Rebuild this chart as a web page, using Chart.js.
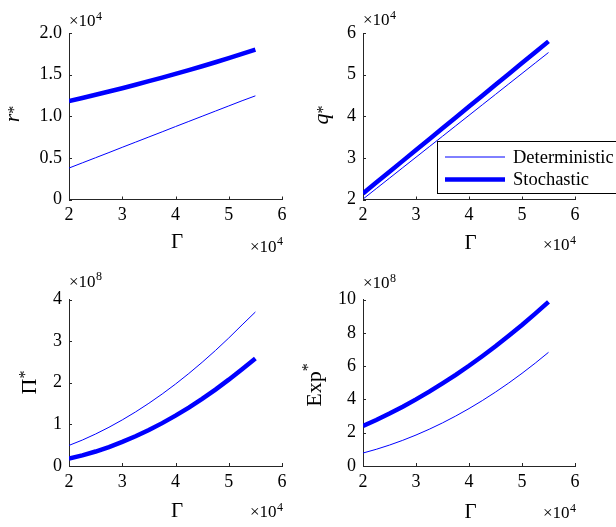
<!DOCTYPE html>
<html>
<head>
<meta charset="utf-8">
<script src="https://cdn.jsdelivr.net/npm/chart.js@4.4.1/dist/chart.umd.min.js"></script>
<style>
  html, body { margin: 0; padding: 0; background: #ffffff; }
  #wrap { position: relative; width: 616px; height: 527px; overflow: hidden; background: #ffffff; }
  #wrap canvas { position: absolute; left: 0; top: 0; }
</style>
</head>
<body>
<div id="wrap">
  <canvas id="cR" width="616" height="527"></canvas>
  <canvas id="cQ" width="616" height="527"></canvas>
  <canvas id="cPi" width="616" height="527"></canvas>
  <canvas id="cExp" width="616" height="527"></canvas>
</div>
<script>
// ---------------- DATA ----------------
// Gamma (x 10^4)
const gamma = [2, 2.25, 2.5, 2.75, 3, 3.25, 3.5, 3.75, 4, 4.25, 4.5, 4.75, 5, 5.25, 5.5];
const seriesNames = ['Deterministic', 'Stochastic'];
const xTickValues = [2, 3, 4, 5, 6];

// r* (x 10^4)
const rDet = [0.378, 0.440, 0.502, 0.564, 0.627, 0.689, 0.751, 0.813, 0.876, 0.938, 1.000, 1.062, 1.124, 1.186, 1.245];
const rSto = [1.183, 1.220, 1.258, 1.297, 1.337, 1.378, 1.421, 1.464, 1.509, 1.555, 1.601, 1.649, 1.699, 1.749, 1.800];
const rTicks = [0, 0.5, 1.0, 1.5, 2.0];

// q* (x 10^4)
const qDet = [2.010, 2.262, 2.513, 2.765, 3.016, 3.268, 3.519, 3.771, 4.022, 4.274, 4.525, 4.777, 5.028, 5.280, 5.531];
const qSto = [2.145, 2.406, 2.667, 2.928, 3.189, 3.450, 3.711, 3.972, 4.233, 4.494, 4.755, 5.016, 5.277, 5.538, 5.799];
const qTicks = [2, 3, 4, 5, 6];

// Pi* (x 10^8)
const piDet = [0.495, 0.623, 0.769, 0.930, 1.107, 1.299, 1.507, 1.730, 1.968, 2.222, 2.491, 2.775, 3.075, 3.390, 3.700];
const piSto = [0.176, 0.255, 0.348, 0.456, 0.578, 0.714, 0.865, 1.030, 1.210, 1.404, 1.613, 1.836, 2.074, 2.326, 2.580];
const piTicks = [0, 1, 2, 3, 4];

// Exp* (x 10^8)
const expDet = [0.779, 1.003, 1.257, 1.543, 1.860, 2.209, 2.589, 3.003, 3.448, 3.927, 4.440, 4.985, 5.565, 6.179, 6.827];
const expSto = [2.410, 2.767, 3.150, 3.561, 4.000, 4.464, 4.960, 5.474, 6.020, 6.593, 7.190, 7.819, 8.470, 9.153, 9.860];
const expTicks = [0, 2, 4, 6, 8, 10];

// ---------------- STYLE ----------------
const SERIF = "'Liberation Serif', 'Times New Roman', serif";
const BLUE = '#0000ff';
const AXIS = '#262626';
const TXT = '#000000';
const YW = 50, XH = 40, W = 616, H = 527;

function pts(ys) { return gamma.map((g, i) => ({ x: g, y: ys[i] })); }

function drawRotated(ctx, xb, yc, parts) {
  ctx.save();
  let total = 0;
  parts.forEach(p => { ctx.font = p.font; p.w = ctx.measureText(p.t).width; total += p.w; });
  ctx.translate(xb, yc);
  ctx.rotate(-Math.PI / 2);
  ctx.textBaseline = 'alphabetic';
  ctx.textAlign = 'left';
  ctx.fillStyle = TXT;
  let x = -total / 2;
  parts.forEach(p => { ctx.font = p.font; ctx.fillText(p.t, x, -p.raise); x += p.w; });
  ctx.restore();
}

function drawExp(ctx, x, yb, sup) {
  ctx.save();
  ctx.fillStyle = TXT;
  ctx.textBaseline = 'alphabetic';
  ctx.textAlign = 'left';
  ctx.font = '17px ' + SERIF;
  const base = '\u00d710';
  ctx.fillText(base, x, yb);
  const w = ctx.measureText(base).width;
  ctx.font = '12px ' + SERIF;
  ctx.fillText(sup, x + w + 0.5, yb - 6.5);
  ctx.restore();
}

const annot = {
  id: 'annot',
  afterDraw(chart, args, o) {
    const ctx = chart.ctx;
    const a = chart.chartArea;
    const xs = chart.scales.x, ys = chart.scales.y;
    // inward tick marks
    ctx.save();
    ctx.strokeStyle = AXIS;
    ctx.lineWidth = 1;
    ctx.beginPath();
    xs.ticks.forEach(t => {
      const px = Math.round(xs.getPixelForValue(t.value)) + 0.5;
      ctx.moveTo(px, a.bottom); ctx.lineTo(px, a.bottom - 3);
    });
    ys.ticks.forEach(t => {
      const py = Math.round(ys.getPixelForValue(t.value)) + 0.5;
      ctx.moveTo(a.left, py); ctx.lineTo(a.left + 3, py);
    });
    ctx.stroke();
    ctx.restore();
    // y title
    drawRotated(ctx, a.left + o.ytX, o.ytY, o.ytParts);
    // exponents
    drawExp(ctx, a.left, a.top + o.topExpDy, o.topSup);
    drawExp(ctx, a.right - 32, a.bottom + o.botExpDy, '4');
    // Gamma
    ctx.save();
    ctx.fillStyle = TXT;
    ctx.font = '21px ' + SERIF;
    ctx.textAlign = 'center';
    ctx.textBaseline = 'alphabetic';
    ctx.fillText('\u0393', (a.left + a.right) / 2 + 1.5, a.bottom + o.gDy);
    ctx.restore();
    // legend
    if (o.legend) {
      const L = o.legend;
      ctx.save();
      ctx.fillStyle = '#ffffff';
      ctx.fillRect(L.x, L.y, L.w, L.h);
      ctx.strokeStyle = '#000000';
      ctx.lineWidth = 1;
      ctx.strokeRect(L.x + 0.5, L.y + 0.5, L.w, L.h);
      chart.data.datasets.forEach((ds, i) => {
        const yy = L.y + 16 + i * 22.5;
        ctx.strokeStyle = ds.borderColor;
        ctx.lineWidth = ds.borderWidth;
        ctx.beginPath();
        ctx.moveTo(L.x + 8, yy); ctx.lineTo(L.x + 68, yy);
        ctx.stroke();
        ctx.fillStyle = TXT;
        ctx.font = '18.5px ' + SERIF;
        ctx.textBaseline = 'middle';
        ctx.textAlign = 'left';
        ctx.fillText(ds.label, L.x + 76, yy + 1);
      });
      ctx.restore();
    }
  }
};

function makeChart(id, det, sto, yTicks, yFmt, box, ann) {
  const [L, T, R, B] = box;
  return new Chart(document.getElementById(id), {
    type: 'line',
    data: {
      datasets: [
        { label: seriesNames[0], data: pts(det), borderColor: BLUE, borderWidth: 1, pointRadius: 0, tension: 0, fill: false },
        { label: seriesNames[1], data: pts(sto), borderColor: BLUE, borderWidth: 4.5, pointRadius: 0, tension: 0, fill: false }
      ]
    },
    options: {
      responsive: false,
      animation: false,
      events: [],
      layout: { padding: { left: L - YW, top: T, right: W - R, bottom: H - B - XH } },
      plugins: { legend: { display: false }, tooltip: { enabled: false }, annot: ann },
      scales: {
        x: {
          type: 'linear', min: xTickValues[0], max: xTickValues[xTickValues.length - 1],
          afterFit: s => { s.height = XH; },
          afterBuildTicks: s => { s.ticks = xTickValues.map(v => ({ value: v })); },
          ticks: { font: { family: SERIF, size: 18 }, color: TXT, padding: 5, maxRotation: 0, autoSkip: false, callback: v => String(v) },
          grid: { display: false, drawTicks: false },
          border: { display: true, color: AXIS, width: 1 }
        },
        y: {
          type: 'linear', min: yTicks[0], max: yTicks[yTicks.length - 1],
          afterFit: s => { s.width = YW; },
          afterBuildTicks: s => { s.ticks = yTicks.map(v => ({ value: v })); },
          ticks: { font: { family: SERIF, size: 18 }, color: TXT, padding: 7, autoSkip: false, callback: yFmt },
          grid: { display: false, drawTicks: false },
          border: { display: true, color: AXIS, width: 1 }
        }
      }
    },
    plugins: [annot]
  });
}

const fmt1 = v => (v === 0 ? '0' : v.toFixed(1));
const fmt0 = v => String(v);
const it = (t) => ({ t, font: 'italic 22px ' + SERIF, raise: 0 });
const rm = (t) => ({ t, font: '22px ' + SERIF, raise: 0 });
const star = (raise) => ({ t: '*', font: '16px ' + SERIF, raise });

makeChart('cR', rDet, rSto, rTicks, fmt1, [69, 33, 282, 199.5],
  { ytX: -50.5, ytY: 114, ytParts: [it('r'), star(0)], topExpDy: -7, topSup: '4', botExpDy: 52, gDy: 48.5 });
makeChart('cQ', qDet, qSto, qTicks, fmt0, [363, 33, 575, 199.5],
  { ytX: -34.7, ytY: 115, ytParts: [it('q'), star(0)], topExpDy: -8, topSup: '4', botExpDy: 50.5, gDy: 49,
    legend: { x: 437, y: 141, w: 200, h: 52 } });
makeChart('cPi', piDet, piSto, piTicks, fmt0, [69, 299.5, 282, 466],
  { ytX: -33, ytY: 382.5, ytParts: [rm('\u03a0'), star(6.5)], topExpDy: -13, topSup: '8', botExpDy: 51, gDy: 51 });
makeChart('cExp', expDet, expSto, expTicks, fmt0, [363, 299.5, 575, 466],
  { ytX: -42, ytY: 385, ytParts: [rm('Exp'), star(8.5)], topExpDy: -11.5, topSup: '8', botExpDy: 52, gDy: 52 });
</script>
</body>
</html>
